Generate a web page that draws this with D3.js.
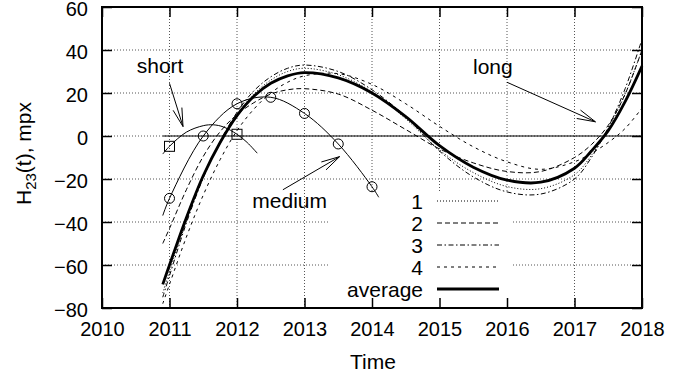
<!DOCTYPE html>
<html>
<head>
<meta charset="utf-8">
<script src="https://cdn.jsdelivr.net/npm/d3@7"></script>
<style>
  html, body { margin: 0; padding: 0; background: #fff; }
  svg { display: block; }
  text { font-family: "Liberation Sans", Arial, Helvetica, sans-serif; fill: #000; }
</style>
</head>
<body>
<svg id="chart" width="696" height="378"></svg>
<script>
// Sampling times (years) for the fitted curves
const years = [2010.9, 2011, 2011.25, 2011.5, 2011.75, 2012, 2012.25, 2012.5, 2012.75, 2013,
               2013.5, 2014, 2014.5, 2015, 2015.5, 2016, 2016.5, 2017, 2017.25, 2017.5, 2017.75, 2018];

// Long-period fits, one per data set, and their average
const series1 = [-73, -63, -39.5, -19, -3, 10, 19.5, 26, 30, 31.5, 28.5, 20.5, 8, -6.5, -17, -23.5, -24.5, -18, -9, 3.5, 19.5, 40];
const series2 = [-50, -43, -25, -9.5, 2, 10, 15.5, 19.5, 21.5, 22, 19.5, 12, 3, -6, -12.5, -16.5, -16.5, -10, -4, 5, 19.5, 40];
const series3 = [-75, -65, -40.5, -19.5, -2.5, 11, 21, 27.5, 31.5, 33, 30, 21.5, 9, -7, -19, -26, -27, -20, -10, 4, 22, 45];
const series4 = [-78, -69, -47, -27.5, -11, 2.5, 12.5, 20, 25, 28, 29, 24, 15, 4.5, -5, -12, -15.5, -12, -8, -3, 3.5, 13];
const average = [-69, -60, -38, -18.5, -3, 9.5, 18.5, 24.5, 28, 29.5, 27, 20, 9, -4.5, -14.5, -20.5, -21.5, -15, -7, 2.5, 16, 32.5];

// Medium-period fit (thin line) and its half-year points (circles)
const mediumT = [2010.9, 2011, 2011.5, 2012, 2012.5, 2013, 2013.5, 2014, 2014.1];
const mediumV = [-37, -29, 0, 15, 18, 10.5, -3.7, -23.6, -28.5];
const mediumPtsT = [2011, 2011.5, 2012, 2012.5, 2013, 2013.5, 2014];
const mediumPtsV = [-29, 0, 15, 18, 10.5, -3.7, -23.6];

// Short-period fit (thin line) and its yearly points (squares)
const shortT = [2010.9, 2011, 2011.25, 2011.5, 2011.65, 2011.8, 2012, 2012.15, 2012.3];
const shortV = [-8.4, -4.8, 1.8, 4.8, 5.2, 4.2, 0.8, -3, -8];
const shortPtsT = [2011, 2012];
const shortPtsV = [-4.8, 0.8];

// Axis ticks
const xTicks = [2010, 2011, 2012, 2013, 2014, 2015, 2016, 2017, 2018];
const yTicks = [-80, -60, -40, -20, 0, 20, 40, 60];

// Legend
const legendLabels = ["1", "2", "3", "4", "average"];

// Annotations: label text, label anchor, arrow start, arrow tip (data units)
const noteLabels = ["short", "medium", "long"];
const noteTextPos = [[2010.86, 29.3], [2012.78, -33.3], [2015.79, 28.8]];
const noteFrom = [[2011.0, 24.5], [2012.68, -25], [2016.0, 25]];
const noteTo = [[2011.2, 4.4], [2013.52, -9.6], [2017.31, 6.6]];

// ---- drawing ----
const svg = d3.select("#chart");
const L = 102, R = 642, T = 7, B = 308;
const x = d3.scaleLinear().domain([2010, 2018]).range([L, R]);
const y = d3.scaleLinear().domain([-80, 60]).range([B, T]);
const FS = 21;      // annotation, key and title text
const TFS = 20;     // tick labels

const styles = [
  { dash: "1,2", width: 1 },
  { dash: "5,3", width: 1 },
  { dash: "5,2.5,1.5,2.5", width: 1 },
  { dash: "3,4", width: 1 },
  { dash: null, width: 2.8 }
];

// grid
const grid = svg.append("g").attr("stroke", "#555").attr("stroke-width", 1).attr("stroke-dasharray", "1,2");
xTicks.filter(t => t > 2010 && t < 2018).forEach(t => {
  grid.append("line").attr("x1", x(t)).attr("x2", x(t)).attr("y1", B).attr("y2", T);
});
yTicks.filter(v => v > -80 && v < 60).forEach(v => {
  grid.append("line").attr("x1", L).attr("x2", R).attr("y1", y(v)).attr("y2", y(v));
});

// opaque key box
svg.append("rect").attr("x", 330).attr("y", 193).attr("width", 183).attr("height", B - 193).attr("fill", "#fff");

// zero line over the fitted interval
svg.append("line")
  .attr("x1", x(2010.9)).attr("x2", x(2018)).attr("y1", y(0)).attr("y2", y(0))
  .attr("stroke", "#000").attr("stroke-width", 1);

const line = d3.line().x(d => x(d[0])).y(d => y(d[1])).curve(d3.curveCatmullRom.alpha(0.5));

const allSeries = [series1, series2, series3, series4, average];
allSeries.forEach((s, i) => {
  svg.append("path")
    .attr("d", line(years.map((t, k) => [t, s[k]])))
    .attr("fill", "none").attr("stroke", "#000")
    .attr("stroke-width", styles[i].width)
    .attr("stroke-dasharray", styles[i].dash)
    .attr("stroke-linejoin", "round");
});

svg.append("path")
  .attr("d", line(mediumT.map((t, k) => [t, mediumV[k]])))
  .attr("fill", "none").attr("stroke", "#000").attr("stroke-width", 1);
svg.append("path")
  .attr("d", line(shortT.map((t, k) => [t, shortV[k]])))
  .attr("fill", "none").attr("stroke", "#000").attr("stroke-width", 1);

svg.append("g").selectAll("circle").data(mediumPtsT.map((t, k) => [t, mediumPtsV[k]])).join("circle")
  .attr("cx", d => x(d[0])).attr("cy", d => y(d[1])).attr("r", 5)
  .attr("fill", "none").attr("stroke", "#000").attr("stroke-width", 1);
svg.append("g").selectAll("rect").data(shortPtsT.map((t, k) => [t, shortPtsV[k]])).join("rect")
  .attr("x", d => x(d[0]) - 5).attr("y", d => y(d[1]) - 5).attr("width", 10).attr("height", 10)
  .attr("fill", "none").attr("stroke", "#000").attr("stroke-width", 1);

// key entries
const key = svg.append("g");
legendLabels.forEach((lab, i) => {
  const yy = 201 + i * 22;
  key.append("text").attr("x", 423).attr("y", yy).attr("dy", "0.36em")
    .attr("text-anchor", "end").attr("font-size", FS).text(lab);
  key.append("line").attr("x1", 437).attr("x2", 499).attr("y1", yy).attr("y2", yy)
    .attr("stroke", "#000").attr("stroke-width", styles[i].width)
    .attr("stroke-dasharray", styles[i].dash);
});

// axes with inward ticks
const tickLen = 10;
const gx = svg.append("g").attr("transform", `translate(0,${B})`)
  .call(d3.axisBottom(x).tickValues(xTicks).tickFormat(d3.format("d")).tickSizeInner(-tickLen).tickSizeOuter(0).tickPadding(14));
const gy = svg.append("g").attr("transform", `translate(${L},0)`)
  .call(d3.axisLeft(y).tickValues(yTicks).tickSizeInner(-tickLen).tickSizeOuter(0).tickPadding(14));
const gt = svg.append("g").attr("transform", `translate(0,${T})`)
  .call(d3.axisTop(x).tickValues(xTicks).tickFormat("").tickSizeInner(-tickLen).tickSizeOuter(0));
const gr = svg.append("g").attr("transform", `translate(${R},0)`)
  .call(d3.axisRight(y).tickValues(yTicks).tickFormat("").tickSizeInner(-tickLen).tickSizeOuter(0));
[gx, gy, gt, gr].forEach(g => {
  g.select(".domain").remove();
  g.selectAll(".tick line").attr("stroke", "#000").attr("stroke-width", 1.5);
  g.selectAll(".tick text").attr("font-size", TFS).attr("font-family", "Liberation Sans, Arial, sans-serif").attr("fill", "#000");
});
gy.selectAll(".tick text").attr("dy", "0.42em");

// frame
svg.append("rect").attr("x", L).attr("y", T).attr("width", R - L).attr("height", B - T)
  .attr("fill", "none").attr("stroke", "#000").attr("stroke-width", 2);

// annotations with open arrow heads
const headLen = 19, headAng = 14 * Math.PI / 180;
noteLabels.forEach((lab, i) => {
  svg.append("text").attr("x", x(noteTextPos[i][0])).attr("y", y(noteTextPos[i][1]))
    .attr("text-anchor", "middle").attr("font-size", FS).text(lab);
  const x0 = x(noteFrom[i][0]), y0 = y(noteFrom[i][1]);
  const x1 = x(noteTo[i][0]), y1 = y(noteTo[i][1]);
  const a = Math.atan2(y0 - y1, x0 - x1);
  const p = d3.path();
  p.moveTo(x0, y0); p.lineTo(x1, y1);
  p.moveTo(x1 + headLen * Math.cos(a + headAng), y1 + headLen * Math.sin(a + headAng));
  p.lineTo(x1, y1);
  p.lineTo(x1 + headLen * Math.cos(a - headAng), y1 + headLen * Math.sin(a - headAng));
  svg.append("path").attr("d", p.toString()).attr("fill", "none").attr("stroke", "#000").attr("stroke-width", 1);
});

// axis titles
svg.append("text").attr("x", (L + R) / 2 + 1).attr("y", 369).attr("text-anchor", "middle")
  .attr("font-size", FS).text("Time");
const yt = svg.append("text")
  .attr("transform", `translate(31,${(T + B) / 2 - 4}) rotate(-90)`)
  .attr("text-anchor", "middle").attr("font-size", FS);
yt.append("tspan").text("H");
yt.append("tspan").attr("font-size", 15).attr("dy", 5).text("23");
yt.append("tspan").attr("dy", -5).text("(t), mpx");
</script>
</body>
</html>
